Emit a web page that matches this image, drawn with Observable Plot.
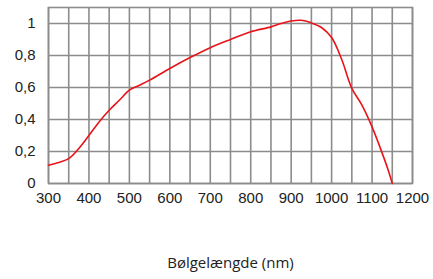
<!DOCTYPE html>
<html>
<head>
<meta charset="utf-8">
<script src="https://cdn.jsdelivr.net/npm/d3@7"></script>
<script src="https://cdn.jsdelivr.net/npm/@observablehq/plot@0.6"></script>
<style>
  body { margin: 0; background: #fff; }
</style>
</head>
<body>
<div id="chart"></div>
<script>
const wavelengths = [300, 325, 350, 375, 400, 425, 450, 475, 500, 525, 550, 600, 650, 700, 750, 800, 850, 875, 900, 925, 950, 975, 1000, 1025, 1050, 1075, 1100, 1125, 1140, 1150];
const response    = [0.114, 0.131, 0.155, 0.219, 0.30, 0.385, 0.458, 0.52, 0.583, 0.614, 0.646, 0.719, 0.787, 0.849, 0.90, 0.948, 0.979, 1.0, 1.016, 1.02, 1.004, 0.975, 0.912, 0.775, 0.595, 0.49, 0.354, 0.19, 0.083, 0.0];
const xTicks = [300, 400, 500, 600, 700, 800, 900, 1000, 1100, 1200];
const xGrid = d3.range(300, 1201, 50);
const yTicks = [0, 0.2, 0.4, 0.6, 0.8, 1];
const xLabel = "Bølgelængde (nm)";

const data = wavelengths.map((w, i) => ({w, r: response[i]}));
const gridColor = "#8c8c8c";

const chart = Plot.plot({
  width: 433,
  height: 279,
  marginLeft: 48,
  marginRight: 21,
  marginTop: 7,
  marginBottom: 96,
  style: {fontFamily: "'Liberation Sans', Arial, sans-serif", fontSize: "15px", color: "#222", background: "#fff"},
  x: {domain: [300, 1200], ticks: xTicks},
  y: {domain: [0, 1.1], ticks: yTicks},
  marks: [
    Plot.ruleX(xGrid, {stroke: gridColor, strokeWidth: 1.6}),
    Plot.ruleY(yTicks, {stroke: gridColor, strokeWidth: 1.6}),
    Plot.frame({stroke: gridColor, strokeWidth: 1.6}),
    Plot.axisX({ticks: xTicks, tickSize: 0, tickPadding: 9, label: null, tickFormat: d => String(d)}),
    Plot.axisY({ticks: yTicks, tickSize: 0, tickPadding: 13, label: null, tickFormat: d => String(d).replace(".", ",")}),
    Plot.line(data, {x: "w", y: "r", stroke: "#e8141a", strokeWidth: 1.6, curve: "catmull-rom"}),
    Plot.text([xLabel], {frameAnchor: "bottom", dy: 84, text: d => d, fontFamily: "'Open Sans', sans-serif", fontSize: 15, fill: "#222"})
  ]
});
document.getElementById("chart").appendChild(chart);
</script>
</body>
</html>
